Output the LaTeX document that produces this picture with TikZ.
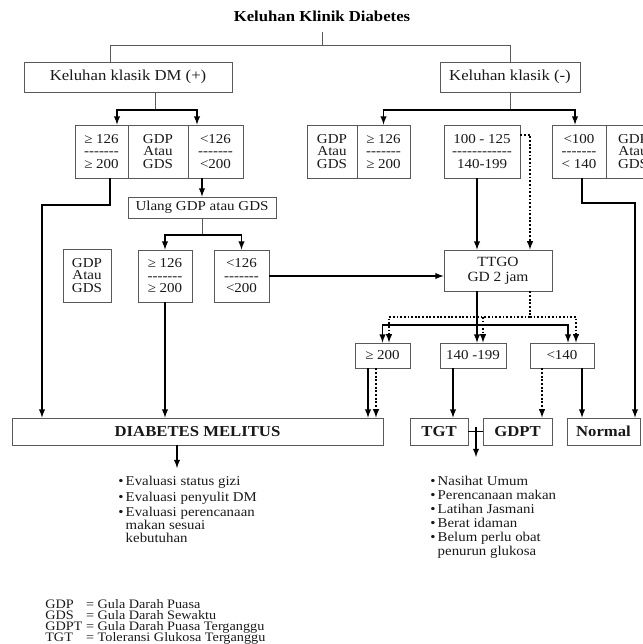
\documentclass[tikz,border=0pt]{standalone}
\usepackage{fontspec}
\setmainfont[FakeStretch=1.1]{Liberation Serif}
\newcommand{\garis}[1]{\foreach \g in {1,...,#1}{-\kern0pt}}

\begin{document}
\begin{tikzpicture}[x=0.025cm,y=-0.025cm,
	kotak/.style={draw=black!65,line width=0.6pt,inner sep=0pt,align=center,text=black!90,font=\fontsize{9.7}{8.9}\selectfont},
	ukuran/.style 2 args={minimum width=#1*0.025cm,minimum height=#2*0.025cm},
	besar/.style={font=\fontsize{10.8}{12}\selectfont},
	tebal/.style={font=\bfseries\fontsize{10.8}{12}\selectfont},
	daftar/.style={anchor=north west,align=left,inner sep=0pt,text=black!90},
	tipis/.style={draw=black!65,line width=0.6pt},
	panah/.style={-latex,line width=1pt},
	titik/.style={-latex,line width=1.1pt,dash pattern=on 1.3pt off 1.3pt}]
	\useasboundingbox (0,0) rectangle (643,644);
	
	\node[tebal,ukuran={220}{32},inner sep=0pt,text=black] (judul) at (322,16) {Keluhan Klinik Diabetes};
	\node[kotak,besar,ukuran={208}{30}] (klasikPos) at (128,77) {Keluhan klasik DM (+)};
	\node[kotak,besar,ukuran={140}{30}] (klasikNeg) at (510,77) {Keluhan klasik (-)};
	
	\node[kotak,ukuran={53}{53}] (kiriA) at (101.5,151.5) {≥ 126\\\garis{7}\\≥ 200};
	\node[kotak,ukuran={60}{53}] (kiriB) at (158,151.5) {GDP\\Atau\\GDS};
	\node[kotak,ukuran={55}{53}] (kiriC) at (215.5,151.5) {<126\\\garis{7}\\<200};
	\node[kotak,ukuran={50}{53}] (tengahA) at (332,151.5) {GDP\\Atau\\GDS};
	\node[kotak,ukuran={53}{53}] (tengahB) at (383.5,151.5) {≥ 126\\\garis{7}\\≥ 200};
	\node[kotak,ukuran={76}{53}] (sedang) at (482,151.5) {100 - 125\\\garis{12}\\140-199};
	\node[kotak,ukuran={54}{53}] (kananA) at (579,151.5) {<100\\\garis{7}\\< 140};
	\node[kotak,ukuran={54}{53}] (kananB) at (633,151.5) {GDP\\Atau\\GDS};
	
	\node[kotak,ukuran={148}{21}] (ulang) at (202,207.5) {Ulang GDP atau GDS};
	\node[kotak,ukuran={48}{53}] (ulangGDP) at (87,275.5) {GDP\\Atau\\GDS};
	\node[kotak,ukuran={54}{52}] (ulangA) at (165,276) {≥ 126\\\garis{7}\\≥ 200};
	\node[kotak,ukuran={55}{52}] (ulangB) at (241.5,276) {<126\\\garis{7}\\<200};
	\node[kotak,ukuran={108}{41},font=\fontsize{10}{10.7}\selectfont] (ttgo) at (498,270.5) {TTGO\\GD 2 jam};
	
	\node[kotak,ukuran={55}{25}] (hasilA) at (382.5,355.5) {≥ 200};
	\node[kotak,ukuran={66}{25}] (hasilB) at (473,355.5) {140 -199};
	\node[kotak,ukuran={64}{25}] (hasilC) at (562,355.5) {<140};
	
	\node[kotak,tebal,ukuran={371}{27}] (dm) at (197.5,431.5) {DIABETES MELITUS};
	\node[kotak,tebal,ukuran={58}{27}] (tgt) at (439,431.5) {TGT};
	\node[kotak,tebal,ukuran={69}{27}] (gdpt) at (517.5,431.5) {GDPT};
	\node[kotak,tebal,ukuran={73}{27}] (normal) at (603.5,431.5) {Normal};
	
	\node[daftar,font=\fontsize{9.6}{9.3}\selectfont] (evaluasi) at (118,476) {\textbullet\,Evaluasi status gizi\\[1.7pt]\textbullet\,Evaluasi penyulit DM\\[1.7pt]\textbullet\,Evaluasi perencanaan\\\phantom{\textbullet\,}makan sesuai\\\phantom{\textbullet\,}kebutuhan};
	\node[daftar,font=\fontsize{9.6}{9.9}\selectfont] (saran) at (430,476) {\textbullet\,Nasihat Umum\\\textbullet\,Perencanaan makan\\\textbullet\,Latihan Jasmani\\\textbullet\,Berat idaman\\\textbullet\,Belum perlu obat\\\phantom{\textbullet\,}penurun glukosa};
	\node[daftar,font={\fontsize{9.2}{7.8}\selectfont\lineskiplimit=-10pt}] (singkatan) at (45,599) {\makebox[1.02cm][l]{GDP}= Gula Darah Puasa\\\makebox[1.02cm][l]{GDS}= Gula Darah Sewaktu\\\makebox[1.02cm][l]{GDPT}= Gula Darah Puasa Terganggu\\\makebox[1.02cm][l]{TGT}= Toleransi Glukosa Terganggu};
	
	\coordinate (cabAtas) at (322,45);
	\coordinate (cabAtasKiri) at (110,45);
	\coordinate (cabAtasKanan) at (510,45);
	\draw[tipis] (judul.south) -- (cabAtas);
	\draw[tipis] (cabAtasKiri) -- (cabAtasKanan);
	\draw[tipis] (cabAtasKiri) -- (cabAtasKiri |- klasikPos.north);
	\draw[tipis] (cabAtasKanan) -- (klasikNeg.north);
	
	\coordinate (cabKiri) at (155,110);
	\draw[tipis] (cabKiri |- klasikPos.south) -- (cabKiri);
	\draw[panah] (cabKiri) -| (117,0 |- kiriA.north);
	\draw[panah] (cabKiri) -| (197,0 |- kiriC.north);
	
	\coordinate (cabKanan) at (510,110);
	\draw[tipis] (klasikNeg.south) -- (cabKanan);
	\draw[panah] (cabKanan) -| (tengahB.north);
	\draw[panah] (cabKanan) -| (575,0 |- kananA.north);
	
	\draw[panah] (110,0 |- kiriA.south) |- (42,205) -- (42,0 |- dm.north);
	\draw[panah] (ulang.north |- kiriC.south) -- (ulang.north);
	\coordinate (cabUlang) at (202,235);
	\draw[tipis] (ulang.south) -- (cabUlang);
	\draw[panah] (cabUlang) -| (ulangA.north);
	\draw[panah] (cabUlang) -| (ulangB.north);
	\draw[panah] (ulangA.south) -- (ulangA.south |- dm.north);
	\draw[panah] (ulangB.east) -- (ulangB.east -| ttgo.west);
	
	\draw[panah] (477,0 |- sedang.south) -- (477,0 |- ttgo.north);
	\draw[titik] (sedang.east |- 0,135) -| (530,0 |- ttgo.north);
	\draw[panah] (582,0 |- kananA.south) |- (635,203) -- (635,0 |- normal.north);
	
	\coordinate (cabT) at (477,325);
	\coordinate (cabTd) at (530,317);
	\draw[panah] (cabT |- ttgo.south) -- (cabT) -| (hasilA.north);
	\draw[panah] (cabT) -| (568,0 |- hasilC.north);
	\draw[panah] (cabT) -- (cabT |- hasilB.north);
	\draw[titik] (cabTd |- ttgo.south) -- (cabTd) -| (389,0 |- hasilA.north);
	\draw[titik] (cabTd) -| (576,0 |- hasilC.north);
	\draw[titik] (cabTd -| 483,0) -- (483,0 |- hasilB.north);
	
	\draw[panah] (368,0 |- hasilA.south) -- (368,0 |- dm.north);
	\draw[titik] (376,0 |- hasilA.south) -- (376,0 |- dm.north);
	\draw[panah] (453,0 |- hasilB.south) -- (453,0 |- tgt.north);
	\draw[titik] (542,0 |- hasilC.south) -- (542,0 |- gdpt.north);
	\draw[panah] (582,0 |- hasilC.south) -- (582,0 |- normal.north);
	
	\coordinate (cabTG) at (476,427);
	\coordinate (ujungTG) at (476,457);
	\coordinate (ujungDM) at (177,468);
	\draw[line width=0.8pt] (tgt.east) -- (gdpt.west);
	\draw[panah] (cabTG) -- (ujungTG);
	\draw[panah] (177,0 |- dm.south) -- (ujungDM);
\end{tikzpicture}
\end{document}
